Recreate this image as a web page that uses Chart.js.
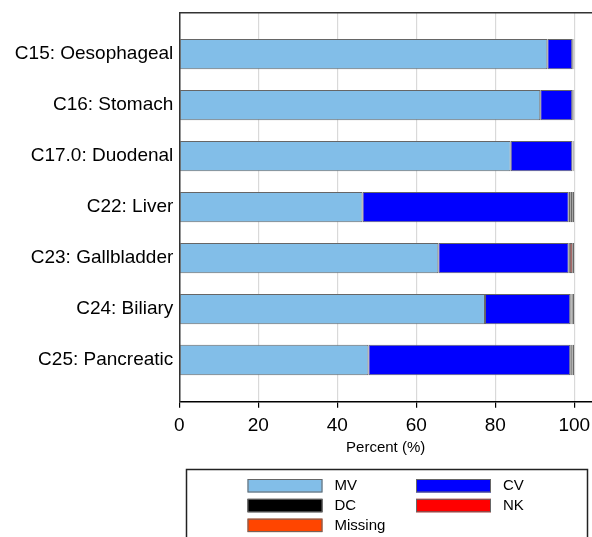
<!DOCTYPE html>
<html>
<head>
<meta charset="utf-8">
<script src="https://cdn.jsdelivr.net/npm/chart.js@4.4.1/dist/chart.umd.min.js"></script>
<style>
  html, body { margin: 0; padding: 0; background: #fff; }
  #wrap { width: 592px; height: 537px; position: relative; }
</style>
</head>
<body>
<div id="wrap"><canvas id="chart"></canvas></div>
<script>
// Data
const categories = ['C15: Oesophageal', 'C16: Stomach', 'C17.0: Duodenal', 'C22: Liver', 'C23: Gallbladder', 'C24: Biliary', 'C25: Pancreatic'];
const mv = [93.2, 91.4, 83.9, 46.4, 65.6, 77.4, 47.9];
const cv = [6.3, 8.1, 15.6, 52.2, 33.0, 21.6, 51.1];
const dc = [0.3, 0.2, 0.1, 0.4, 0.3, 0.3, 0.4];
const nk = [0.1, 0.1, 0.2, 0.5, 0.6, 0.2, 0.2];
const missing = [0.1, 0.2, 0.2, 0.5, 0.5, 0.5, 0.4];
const xTicks = [0, 20, 40, 60, 80, 100];

const FONT = '"Liberation Sans", Arial, Helvetica, sans-serif';

// bars as {x, y} so the y axis can be linear (leaves the gaps at top/bottom)
const points = arr => arr.map((v, i) => ({ x: v, y: i }));

function series(label, values, color) {
  return {
    label,
    data: points(values),
    backgroundColor: color,
    borderColor: '#666666',
    borderWidth: 1,
    borderSkipped: false,
    barPercentage: 0.594,
    categoryPercentage: 1,
  };
}

// Rámeček nahoře + legenda v boxu
const frameAndLegend = {
  id: 'frameAndLegend',
  afterDraw(chart) {
    const { ctx, chartArea } = chart;
    ctx.save();
    ctx.strokeStyle = '#333';
    ctx.lineWidth = 1.5;
    ctx.beginPath();
    ctx.moveTo(chartArea.left, chartArea.top);
    ctx.lineTo(chartArea.right, chartArea.top);
    ctx.stroke();

    ctx.strokeStyle = '#222';
    ctx.lineWidth = 1.5;
    ctx.strokeRect(186.5, 469.5, 401, 90);

    ctx.font = '15px ' + FONT;
    ctx.textBaseline = 'middle';
    chart.data.datasets.forEach((ds, i) => {
      const col = i % 2;
      const row = Math.floor(i / 2);
      const x = col ? 416 : 247.5;
      const y = 479 + row * 19.8;
      ctx.fillStyle = ds.backgroundColor;
      ctx.fillRect(x, y, 75, 13.5);
      ctx.strokeStyle = '#666';
      ctx.lineWidth = 1;
      ctx.strokeRect(x + 0.5, y + 0.5, 74, 12.5);
      ctx.fillStyle = '#000';
      ctx.fillText(ds.label, x + 87, y + 7);
    });
    ctx.restore();
  },
};

new Chart(document.getElementById('chart'), {
  type: 'bar',
  data: {
    datasets: [
      series('MV', mv, '#82BEE8'),
      series('CV', cv, '#0000FF'),
      series('DC', dc, '#000000'),
      series('NK', nk, '#FF0000'),
      series('Missing', missing, '#FF4500'),
    ],
  },
  options: {
    indexAxis: 'y',
    responsive: true,
    maintainAspectRatio: false,
    animation: false,
    devicePixelRatio: 1,
    layout: { padding: { top: 12.7, left: 0, right: 0, bottom: 77 } },
    plugins: {
      legend: { display: false },
      tooltip: { enabled: false },
    },
    scales: {
      x: {
        type: 'linear',
        stacked: true,
        min: 0,
        max: 104.5,
        afterBuildTicks: scale => { scale.ticks = xTicks.map(v => ({ value: v })); },
        afterFit: scale => {
          scale.height = 58.3;
          scale.paddingLeft = 0;
          scale.paddingRight = 0;
        },
        grid: {
          color: '#d9d9d9',
          lineWidth: 1.2,
          tickColor: '#000',
          tickLength: 6,
          drawTicks: true,
        },
        border: { display: true, color: '#000', width: 1.5 },
        ticks: {
          color: '#000',
          font: { family: FONT, size: 19 },
          padding: 7,
          maxRotation: 0,
        },
        title: {
          display: true,
          text: 'Percent (%)',
          color: '#000',
          font: { family: FONT, size: 15 },
          padding: { top: 0, bottom: 3 },
        },
      },
      y: {
        type: 'linear',
        stacked: true,
        reverse: true,
        offset: false,
        min: -0.814,
        max: 6.818,
        afterBuildTicks: scale => { scale.ticks = categories.map((c, i) => ({ value: i })); },
        afterFit: scale => {
          scale.width = 179.3;
          scale.paddingTop = 0;
          scale.paddingBottom = 0;
        },
        grid: { display: false, drawTicks: false, offset: false },
        border: { display: true, color: '#333', width: 1.5 },
        ticks: {
          color: '#000',
          font: { family: FONT, size: 19 },
          padding: 6,
          autoSkip: false,
          callback: v => categories[v],
        },
      },
    },
  },
  plugins: [frameAndLegend],
});
</script>
</body>
</html>
